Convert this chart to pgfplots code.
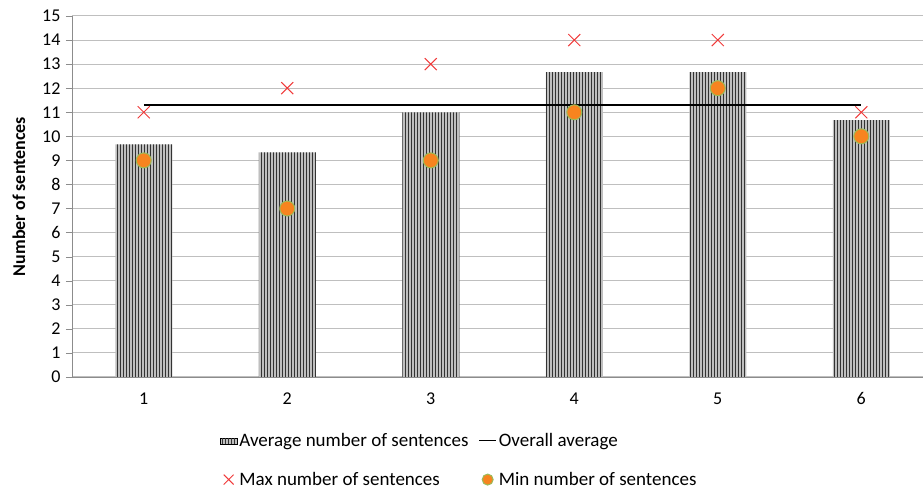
\documentclass[border=0pt]{standalone}
\usepackage{pgfplots}
\pgfplotsset{compat=1.18}
\usepackage{fontspec}
\setmainfont{Carlito}
\usetikzlibrary{patterns,calc}
\definecolor{gridc}{HTML}{BFBFBF}
\definecolor{axc}{HTML}{8C8C8C}
\definecolor{maxc}{HTML}{F03A3A}
\definecolor{minc}{HTML}{F7841F}
\definecolor{minedge}{HTML}{9BBB59}
\begin{document}
\begin{tikzpicture}
\begin{axis}[
  name=ax,
  scale only axis,
  width=851pt, height=361pt,
  xmin=0.5, xmax=6.43,
  ymin=0, ymax=15,
  ytick={0,1,...,15},
  xtick={1,2,3,4,5,6},
  major x tick style={draw=none},
  extra x ticks={0.5,1.5,2.5,3.5,4.5,5.5},
  extra x tick labels={},
  extra x tick style={major tick length=6pt, tick align=outside, xmajorgrids=false, tick style={draw=axc}},
  ymajorgrids,
  grid style={gridc, line width=1pt},
  axis x line*=bottom,
  axis y line*=left,
  axis line style={axc, line width=0.8pt},
  y axis line style={-},
  x axis line style={-},
  ytick style={axc},
  tick align=outside,
  major tick length=6pt,
  font=\fontsize{18}{20}\selectfont,
  /pgf/number format/assume math mode=true,
  yticklabel style={xshift=-2pt},
  xticklabel style={yshift=-6pt},
  ylabel={\bfseries Number of sentences},
  ylabel style={at={(axis description cs:-0.0623,0.5)}, anchor=center},
  legend columns=2,
  legend style={at={(0.455,-0.145)}, anchor=north, draw=none, fill=none,
    font=\fontsize{19}{21}\selectfont, /tikz/every even column/.append style={column sep=8pt},
    row sep=20pt},
  legend cell align=left,
]
\addplot[ybar, bar width=57pt, draw=none, fill=gray!50,
  postaction={pattern=vertical lines, pattern color=black!80},
  area legend] coordinates {(1,9.67) (2,9.33) (3,11) (4,12.67) (5,12.67) (6,10.67)};
\addlegendentry{Average number of sentences}
\addplot[black, line width=1.2pt, mark=none] coordinates {(1,11.3) (6,11.3)};
\addlegendentry{Overall average}
\addplot[only marks, mark=x, mark size=8.5pt, mark options={draw=maxc, line width=1pt},
  legend image post style={mark size=7pt}] coordinates {(1,11) (2,12) (3,13) (4,14) (5,14) (6,11)};
\addlegendentry{Max number of sentences}
\addplot[only marks, mark=*, mark size=7.5pt, mark options={fill=minc, draw=minedge, line width=1pt},
  legend image post style={mark size=5.5pt}] coordinates {(1,9) (2,7) (3,9) (4,11) (5,12) (6,10)};
\addlegendentry{Min number of sentences}
\end{axis}
\pgfresetboundingbox
\path[use as bounding box] ($(ax.south west)+(-72pt,-114pt)$) rectangle ($(ax.north east)+(0pt,16pt)$);
\end{tikzpicture}
\end{document}
